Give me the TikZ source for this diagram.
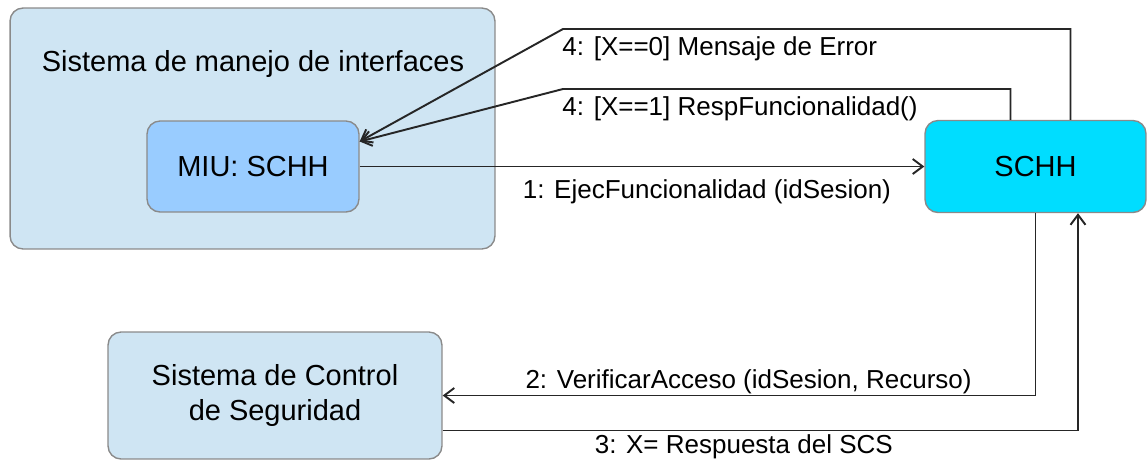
\documentclass[tikz,border=0pt]{standalone}
\usepackage{fontspec}
\setmainfont{Liberation Sans}
\usetikzlibrary{arrows.meta}

\definecolor{sysblue}{HTML}{CFE5F3}
\definecolor{miublue}{HTML}{99CCFF}
\definecolor{schhcyan}{HTML}{00DDFF}
\definecolor{boxgray}{HTML}{8A8A8A}

\tikzset{
  sysbox/.style={draw=boxgray, fill=sysblue, rounded corners=0.26cm, line width=0.8pt,
    font=\fontsize{16.5}{20}\selectfont, align=center},
  msg/.style={line width=1.1pt, draw=black!85, -{Straight Barb[length=2mm, width=3mm]}},
  lbl/.style={font=\fontsize{14.8}{18}\selectfont, inner sep=2pt}
}

\begin{document}
\begin{tikzpicture}[x=0.02cm, y=-0.02cm]
  \useasboundingbox (0,0) rectangle (1147,461);

  % Interface system with its MIU
  \node[sysbox, minimum width=9.7cm, minimum height=4.82cm] (smi) at (252.5,128.5) {};
  \node[font=\fontsize{16.5}{20}\selectfont] (smititle) at (253,64) {Sistema de manejo de interfaces};
  \node[sysbox, fill=miublue, minimum width=4.24cm, minimum height=1.82cm] (miu) at (253,166.5) {MIU: SCHH};

  % SCHH and security control
  \node[sysbox, fill=schhcyan, minimum width=4.42cm, minimum height=1.84cm] (schh) at (1035.5,166.5) {SCHH};
  \node[sysbox, minimum width=6.68cm, minimum height=2.54cm] (scs) at (275,395.5) {Sistema de Control\\de Seguridad};

  % Bends of the answers
  \coordinate (err) at (563,29);
  \coordinate (resp) at (563,89);

  % Messages
  \draw[msg] (miu) -- node[lbl, below=5pt, pos=0.615] {1: EjecFuncionalidad (idSesion)} (schh);
  \draw[msg] (schh.south) |- node[lbl, above, pos=0.742, yshift=-0.05cm] {2: VerificarAcceso (idSesion, Recurso)} (scs.east);
  \draw[msg] ([yshift=-0.7cm]scs.east) -| node[lbl, below, pos=0.237] {3: X= Respuesta del SCS} ([xshift=0.85cm]schh.south);
  \draw[msg] ([xshift=0.7cm]schh.north) |- (err) node[lbl, below right, xshift=-0.1cm, yshift=-0.06cm] {4: [X==0] Mensaje de Error} -- ([yshift=0.5cm]miu.east);
  \draw[msg] ([xshift=-0.5cm]schh.north) |- (resp) node[lbl, below right, xshift=-0.1cm, yshift=-0.06cm] {4: [X==1] RespFuncionalidad()} -- ([yshift=0.5cm]miu.east);

\end{tikzpicture}
\end{document}
